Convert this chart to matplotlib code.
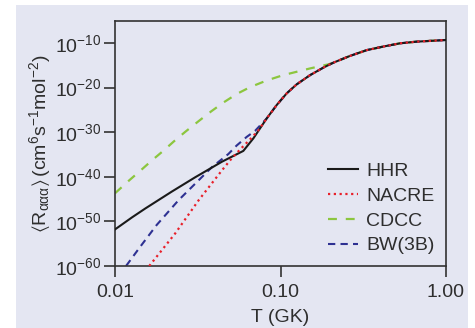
import matplotlib
matplotlib.use("Agg")
import matplotlib.pyplot as plt
import matplotlib.patches as mpatches
import numpy as np

# triple-alpha rates vs temperature, log10 of <R_aaa> in cm^6 s^-1 mol^-2
hhr_T = [0.0100, 0.01267, 0.01525, 0.02208, 0.03054, 0.04436, 0.0596, 0.0685, 0.0826,
         0.0949, 0.109, 0.125, 0.151, 0.182, 0.209, 0.263, 0.332, 0.418, 0.528, 0.665, 1.00]
hhr_logR = [-51.8, -49.1, -47.1, -43.3, -40.1, -36.6, -34.2, -31.4, -26.9,
            -23.9, -21.3, -19.3, -17.2, -15.5, -14.4, -12.9, -11.6, -10.8, -10.07, -9.7, -9.33]

nacre_T = [0.0161, 0.0231, 0.0321, 0.0444, 0.0496, 0.0569, 0.0655, 0.0734, 0.0826,
           0.0949, 0.109, 0.125, 0.151, 0.182, 0.209, 0.263, 0.332, 0.418, 0.528, 0.665, 1.00]
nacre_logR = [-60.0, -52.7, -45.2, -38.5, -36.3, -33.9, -31.6, -29.6, -26.9,
              -23.9, -21.3, -19.3, -17.2, -15.5, -14.4, -12.9, -11.6, -10.8, -10.07, -9.7, -9.33]

cdcc_T = [0.0100, 0.01210, 0.01456, 0.01674, 0.01969, 0.02262, 0.02661, 0.03206, 0.03822,
          0.04541, 0.05458, 0.0655, 0.0826, 0.104, 0.151, 0.194, 0.209, 0.263, 0.332,
          0.418, 0.528, 0.665, 1.00]
cdcc_logR = [-43.7, -40.9, -38.3, -36.3, -34.1, -32.1, -29.9, -27.5, -25.3,
             -23.3, -21.4, -19.9, -18.4, -17.2, -15.7, -14.8, -14.4, -12.9, -11.6,
             -10.8, -10.07, -9.7, -9.33]

bw_T = [0.01166, 0.01416, 0.01786, 0.02427, 0.0386, 0.0484, 0.0543, 0.0625, 0.0702,
        0.0826, 0.0949, 0.109, 0.125, 0.151, 0.182, 0.209, 0.263, 0.332, 0.418, 0.528,
        0.665, 1.00]
bw_logR = [-60.0, -55.75, -50.8, -45.2, -37.8, -34.9, -33.0, -31.05, -29.7,
           -26.9, -23.9, -21.3, -19.3, -17.2, -15.5, -14.4, -12.9, -11.6, -10.8, -10.07,
           -9.7, -9.33]

x_ticks = [0.01, 0.1, 1.0]
x_ticklabels = ["0.01", "0.10", "1.00"]
y_ticks = [1e-60, 1e-50, 1e-40, 1e-30, 1e-20, 1e-10]
y_ticklabels = [r"$10^{-60}$", r"$10^{-50}$", r"$10^{-40}$", r"$10^{-30}$",
                r"$10^{-20}$", r"$10^{-10}$"]

panel = "#e4e6f2"
ink = "#2e2e2e"
plt.rcParams["font.family"] = ["Liberation Sans", "DejaVu Sans"]
plt.rcParams["mathtext.fontset"] = "custom"
plt.rcParams["mathtext.rm"] = "Liberation Sans"
plt.rcParams["mathtext.it"] = "Liberation Sans:italic"
plt.rcParams["mathtext.default"] = "regular"

fig = plt.figure(figsize=(4.75, 3.28), dpi=100)
fig.patch.set_facecolor("white")
# shaded backdrop behind the whole figure panel
fig.patches.append(mpatches.Rectangle((16 / 475, 0), (468 - 16) / 475, 323 / 328,
                                      transform=fig.transFigure, facecolor=panel,
                                      edgecolor="none", zorder=-1))

ax = fig.add_axes([115 / 475, 1 - 266 / 328, (446 - 115) / 475, (266 - 21) / 328])
ax.set_facecolor(panel)

ax.plot(hhr_T, 10.0 ** np.array(hhr_logR), color="#1a1a1a", lw=1.5, label="HHR", zorder=3)
ax.plot(nacre_T, 10.0 ** np.array(nacre_logR), color="#e8202a", lw=1.6,
        linestyle=(0, (1, 1.6)), label="NACRE", zorder=4)
ax.plot(cdcc_T, 10.0 ** np.array(cdcc_logR), color="#8cc63f", lw=1.6,
        linestyle=(0, (4, 4)), label="CDCC", zorder=2)
ax.plot(bw_T, 10.0 ** np.array(bw_logR), color="#2e3192", lw=1.5,
        linestyle=(0, (3.5, 2.5)), label="BW(3B)", zorder=2)

ax.set_xscale("log")
ax.set_yscale("log")
ax.set_xlim(0.01, 1.0)
ax.set_ylim(1e-60, 10 ** -5.07)

ax.set_xticks(x_ticks)
ax.set_xticklabels(x_ticklabels)
ax.set_yticks(y_ticks)
ax.set_yticklabels(y_ticklabels)
ax.minorticks_off()
ax.tick_params(axis="both", direction="out", length=8, width=1.2, color="#333333",
               labelsize=14, labelcolor=ink)
ax.tick_params(axis="x", pad=5)
ax.tick_params(axis="y", pad=2)
for s in ax.spines.values():
    s.set_color("#333333")
    s.set_linewidth(1.2)

ax.set_xlabel("T (GK)", fontsize=14, color=ink, labelpad=6)
ax.set_ylabel(r"$\langle R_{\alpha\alpha\alpha}\rangle\,(\mathrm{cm^6 s^{-1} mol^{-2}})$",
              fontsize=14, color=ink, labelpad=1)

leg = ax.legend(loc="lower right", frameon=False, fontsize=14, handlelength=1.55,
                handletextpad=0.4, labelspacing=0.37, borderaxespad=0.2,
                bbox_to_anchor=(1.0, 0.0))
for t in leg.get_texts():
    t.set_color(ink)

fig.savefig("out.png", dpi=100, facecolor="white")
